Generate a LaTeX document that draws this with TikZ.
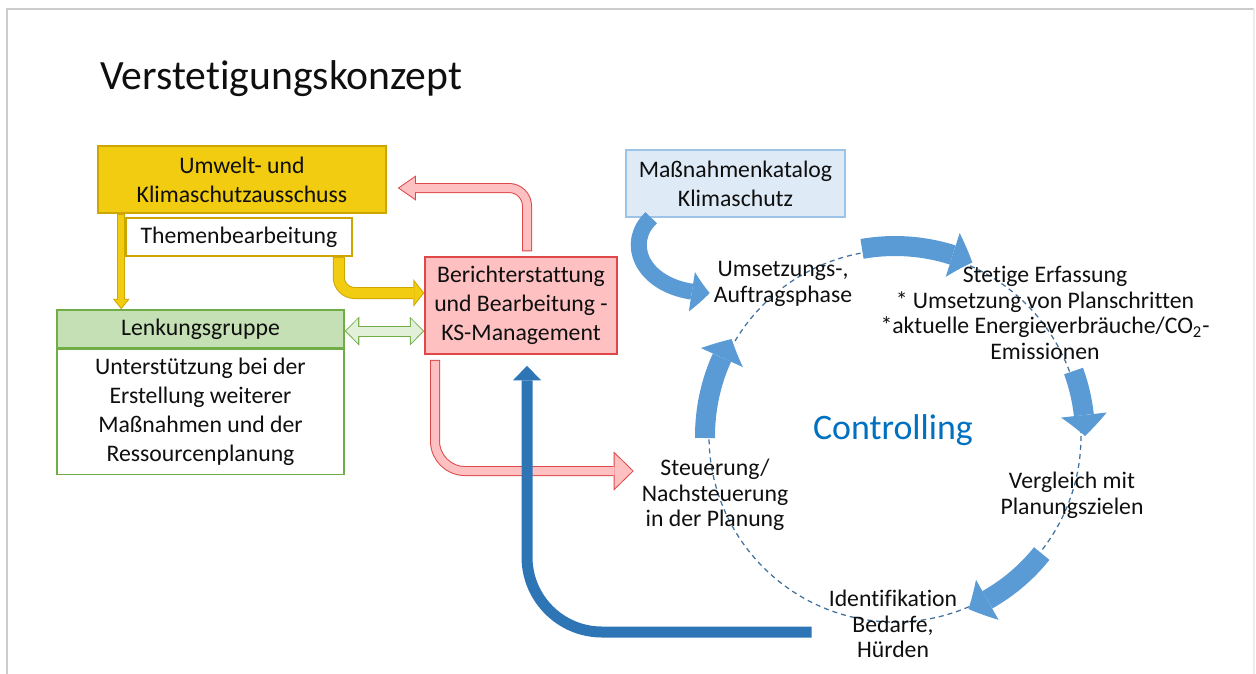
\documentclass[tikz,border=0pt]{standalone}
\usepackage{fontspec}
\setmainfont{Carlito}[Ligatures={NoCommon,NoContextual}]
\usetikzlibrary{arrows.meta,bending,positioning,calc}

\definecolor{txt}{RGB}{15,15,15}
\definecolor{yfill}{RGB}{242,204,16}
\definecolor{yline}{RGB}{206,166,0}
\definecolor{gfill}{RGB}{197,224,180}
\definecolor{gfillb}{RGB}{226,240,217}
\definecolor{gline}{RGB}{112,173,71}
\definecolor{rfill}{RGB}{255,192,194}
\definecolor{rline}{RGB}{222,72,72}
\definecolor{bfill}{RGB}{222,235,247}
\definecolor{bline}{RGB}{157,195,230}
\definecolor{cyc}{RGB}{91,155,213}
\definecolor{dblue}{RGB}{46,117,182}
\definecolor{dashc}{RGB}{65,113,156}
\definecolor{ctrlblue}{RGB}{0,112,192}

\begin{document}
\begin{tikzpicture}[x=0.2mm, y=-0.2mm,
  every node/.style={text=txt},
  box/.style={draw, align=center, inner sep=2pt, line width=0.3mm,
    font=\fontsize{13.5}{16.4}\selectfont},
  ybox/.style={box, fill=yfill, draw=yline},
  tbox/.style={box, fill=white, draw=yline},
  gbox/.style={box, fill=gfill, draw=gline},
  wbox/.style={box, fill=white, draw=gline},
  rbox/.style={box, fill=rfill, draw=rline},
  bbox/.style={box, fill=bfill, draw=bline},
  lbl/.style={align=center, inner sep=1pt, font=\fontsize{13.5}{14.6}\selectfont},
  ctrl/.style={font=\fontsize{20.4}{24}\selectfont, text=ctrlblue},
  title/.style={font=\fontsize{23.7}{28}\selectfont, inner sep=0pt},
  cycdash/.style={draw=dashc, line width=0.25mm, dash pattern=on 1mm off 0.8mm},
  cycarr/.style={draw=cyc, line width=4mm,
    arrows={-Triangle[width=9.2mm, length=4.2mm, line width=0pt, bend]}},
  darr/.style={draw=dblue, line width=2.2mm,
    arrows={-Triangle[width=5.6mm, length=2.9mm, line width=0pt]}},
  % block arrows with outline: preaction draws the border
  yarrA/.style={draw=yfill, line width=1.2mm, shorten <=0.2mm, shorten >=0.32mm,
    arrows={-Triangle[width=2.6mm, length=1.6mm, line width=0pt]},
    preaction={draw=yline, line width=1.6mm, shorten <=0pt, shorten >=0pt,
      arrows={-Triangle[width=3.4mm, length=2.1mm, line width=0pt]}}},
  yarrB/.style={draw=yfill, line width=2mm, shorten <=0.2mm, shorten >=0.25mm,
    arrows={-Triangle[width=4.44mm, length=1.75mm, line width=0pt]},
    preaction={draw=yline, line width=2.4mm, shorten <=0pt, shorten >=0pt,
      arrows={-Triangle[width=5.6mm, length=2.2mm, line width=0pt]}}},
  garr/.style={draw=gfillb, line width=1.8mm, shorten <=0.28mm, shorten >=0.28mm,
    arrows={Triangle[width=4.9mm, length=2.4mm, line width=0pt]-Triangle[width=4.9mm, length=2.4mm, line width=0pt]},
    preaction={draw=gline, line width=2.2mm, shorten <=0pt, shorten >=0pt,
      arrows={Triangle[width=5.8mm, length=2.9mm, line width=0pt]-Triangle[width=5.8mm, length=2.9mm, line width=0pt]}}},
  rarrA/.style={draw=rfill, line width=1.6mm, shorten <=0.2mm, shorten >=0.35mm,
    arrows={-Triangle[width=4.24mm, length=3.05mm, line width=0pt]},
    preaction={draw=rline, line width=2mm, shorten <=0pt, shorten >=0pt,
      arrows={-Triangle[width=5mm, length=3.6mm, line width=0pt]}}},
  rarrB/.style={draw=rfill, line width=1.6mm, shorten <=0.2mm, shorten >=0.29mm,
    arrows={-Triangle[width=6.86mm, length=3.51mm, line width=0pt]},
    preaction={draw=rline, line width=2mm, shorten <=0pt, shorten >=0pt,
      arrows={-Triangle[width=7.8mm, length=4mm, line width=0pt]}}}
]
\useasboundingbox (0,0) rectangle (1256,673);
\draw[gray!40, line width=0.4mm] (7,690) |- (1254,9);
\draw[gray!15, line width=0.3mm] (1254,9) -- (1254,690);

\node[title, anchor=base west] (title) at (100,89) {Verstetigungskonzept};

% left side
\node[ybox, minimum width=57.6mm, minimum height=13.4mm] (uka) at (242,179.5) {Umwelt- und\\Klimaschutzausschuss};
\node[tbox, minimum width=45.2mm, minimum height=7.6mm] (themen) at (239,237) {Themenbearbeitung};
\node[gbox, minimum width=57.4mm, minimum height=7.6mm] (lenk) at (200.5,329) {Lenkungsgruppe};
\node[wbox, minimum width=57.4mm, minimum height=25mm, below=0pt of lenk] (unterst) {Unterstützung bei der\\Erstellung weiterer\\Maßnahmen und der\\Ressourcenplanung};
\node[rbox, minimum width=38.4mm, minimum height=19.4mm] (bericht) at (521,305.5) {Berichterstattung\\und Bearbeitung -\\KS-Management};
\node[bbox, minimum width=43.8mm, minimum height=13.4mm] (katalog) at (735.5,183.5) {Maßnahmenkatalog\\Klimaschutz};

% controlling cycle
\coordinate (mid) at (895,436);
\draw[cycdash] (mid) circle[radius=186];
\node[ctrl] (ctrl) at (893,430) {Controlling};
\node[lbl] (umsetz) at (783,284) {Umsetzungs-,\\Auftragsphase};
\node[lbl] (stetig) at (1045,313) {Stetige Erfassung\\* Umsetzung von Planschritten\\*aktuelle Energieverbräuche/CO\textsubscript{2}-\\Emissionen};
\node[lbl] (vergl) at (1072,495) {Vergleich mit\\Planungszielen};
\node[lbl] (identif) at (893,624) {Identifikation\\Bedarfe,\\Hürden};
\node[lbl] (steuer) at (715,495) {Steuerung/\\Nachsteuerung\\in der Planung};

\draw[cycarr] ($(mid)+(-100:190)$) arc[start angle=-100, end angle=-66, radius=190];
\draw[cycarr] ($(mid)+(-20:190)$) arc[start angle=-20, end angle=0, radius=190];
\draw[cycarr] ($(mid)+(38.7:188)$) arc[start angle=38.7, end angle=67, radius=188];
\draw[cycarr] ($(mid)+(179.4:190)$) arc[start angle=179.4, end angle=210.7, radius=190];

% arrows
\coordinate (ytail) at ($(uka.south west)+(24,0)$);
\draw[yarrA] (ytail) -- (ytail |- lenk.north);
\draw[yarrB, rounded corners=3.2mm] ($(themen.south east)+(-14,0)$) |- ($(bericht.west)+(0,-12.5)$);
\draw[garr] ($(lenk.east)+(0,2)$) -- ($(lenk.east -| bericht.west)+(0,2)$);
\draw[rarrA, rounded corners=3.6mm] ($(bericht.north)+(6,-5)$) |- ($(uka.east)+(11,8.5)$);
\draw[rarrB, rounded corners=6mm] ($(bericht.south)+(-86,5)$) |- ($(steuer.west)+(-6,-24)$);
\draw[darr, rounded corners=15mm] ($(identif.west)+(-15,8)$) -| ($(bericht.south)+(6,11)$);
\draw[cycarr, line width=3.2mm, arrows={-Triangle[width=8mm, length=3.6mm, line width=0pt, bend]}]
  ($(katalog.south west)+(26,0)$) .. controls (622,245) and (645,293) .. ($(umsetz.west)+(-2,9)$);
\end{tikzpicture}
\end{document}
